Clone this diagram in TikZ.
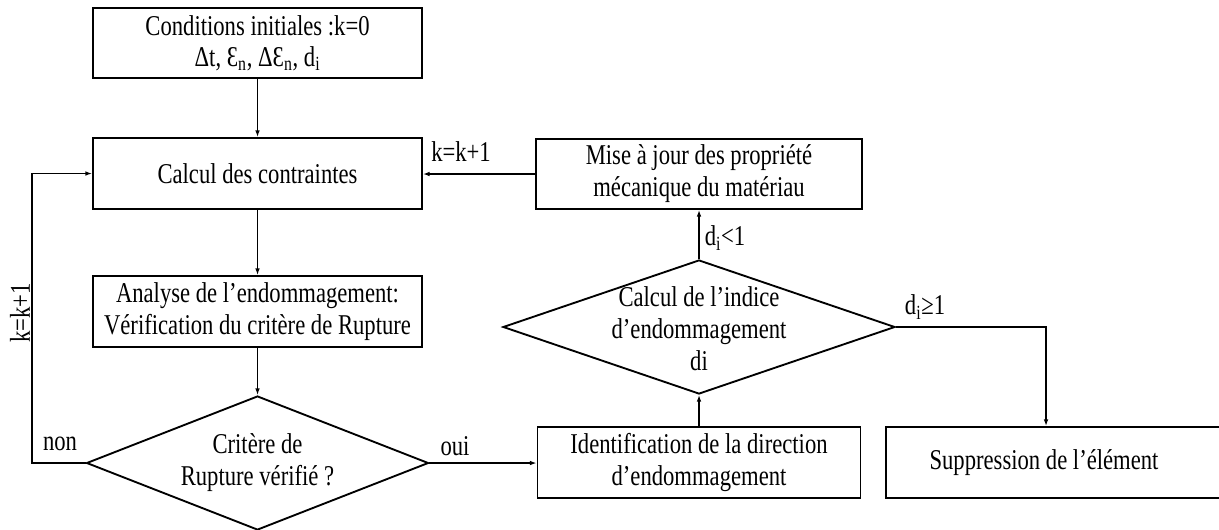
\documentclass[tikz,border=0pt]{standalone}
\usepackage{fontspec}
\setmainfont{Liberation Serif}[FakeStretch=0.79]
\usetikzlibrary{shapes.geometric,arrows.meta}
\begin{document}
\begin{tikzpicture}[x=0.75pt,y=-0.75pt,
  every node/.style={font=\fontsize{21.5}{24}\selectfont},
  box/.style={draw, line width=1.4pt, rectangle, inner sep=0pt, align=center},
  dia/.style={draw, line width=1.4pt, diamond, inner sep=0pt},
  conn/.style={line width=1.1pt, -{Latex[length=5pt,width=3.5pt]}},
  lab/.style={inner sep=0pt}]
\clip (0,0) rectangle (1219,529);
\node[box, minimum width={329*0.75pt}, minimum height={70*0.75pt}] (b1) at (257.5,43)
  {Conditions initiales :k=0\\[-1pt] Δt, Ɛ\textsubscript{n}, ΔƐ\textsubscript{n}, d\textsubscript{i}};
\node[box, minimum width={329*0.75pt}, minimum height={71*0.75pt}] (b2) at (257.5,173.5) {Calcul des contraintes};
\node[box, minimum width={329*0.75pt}, minimum height={71*0.75pt}] (b3) at (257.5,311.5)
  {Analyse de l’endommagement:\\ Vérification du critère de Rupture};
\node[dia, minimum width={342*0.75pt}, minimum height={134*0.75pt},
  label={[align=center, name=d1t]center:Critère de\\ Rupture vérifié ?}] (d1) at (257.5,463) {};
\node[box, minimum width={323*0.75pt}, minimum height={71*0.75pt}] (ident) at (699,462.5)
  {Identification de la direction\\ d’endommagement};
\node[dia, minimum width={392*0.75pt}, minimum height={134*0.75pt},
  label={[align=center, name=d2t, yshift=-1.5pt]center:Calcul de l’indice\\ d’endommagement\\ di}] (d2) at (699,327) {};
\node[box, minimum width={326*0.75pt}, minimum height={70*0.75pt}] (mise) at (699,174)
  {Mise à jour des propriété\\ mécanique du matériau};
\node[box, minimum width={344*0.75pt}, minimum height={71*0.75pt}] (supp) at (1058,462.5)
  {\hspace*{-21pt}Suppression de l’élément};
\coordinate (lp) at (32,320);
\coordinate (sc) at (1046,380);
\draw[conn] (b1) -- (b2);
\draw[conn] (b2) -- (b3);
\draw[conn] (b3) -- (d1);
\draw[conn] (d1.west) -| (lp) |- (b2.west);
\draw[conn] (d1.east) -- (d1.east -| ident.west);
\draw[conn] (ident) -- (d2);
\draw[conn] (d2) -- (mise);
\draw[conn] (mise.west) -- (mise.west -| b2.east);
\draw[conn] (d2.east) -| (sc) -- (sc |- supp.north);
\node[lab] (lnon) at (60,444) {non};
\node[lab, rotate=90] (lk1) at (20,313) {k=k+1};
\node[lab] (loui) at (455,446) {oui};
\node[lab] (lk2) at (461,152) {k=k+1};
\node[lab] (llt) at (725,238) {d\textsubscript{i}<1};
\node[lab] (lge) at (925,307) {d\textsubscript{i}≥1};
\end{tikzpicture}
\end{document}
